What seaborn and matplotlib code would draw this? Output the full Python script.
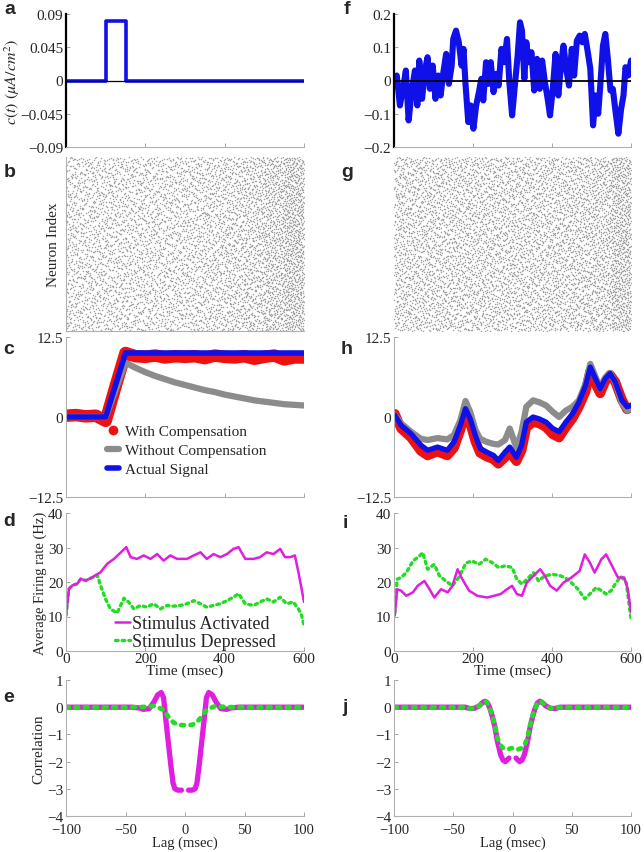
import numpy as np
import pandas as pd
import matplotlib
matplotlib.use("Agg")
import matplotlib.pyplot as plt
from matplotlib.lines import Line2D
import seaborn as sns

sns.set_theme(style="white")
plt.rcParams['font.family'] = ['Liberation Serif', 'DejaVu Serif']
plt.rcParams['mathtext.fontset'] = 'stix'

# ---------------- data ----------------
# (a) pulse stimulus
a_t = [0, 100, 100, 150, 150, 600]
a_v = [0, 0, 0.08, 0.08, 0, 0]

# (f) noisy stimulus
f_t = [0,7,15,24,30,37,45,53,59,64,71,79,85,91,98,105,112,118,125,132,
       139,146,150,157,164,171,176,181,188,194,201,208,215,221,226,233,239,245,252,259,
       265,272,279,286,292,299,306,313,319,324,330,335,341,348,355,362,369,375,382,389,
       395,402,409,416,423,429,436,443,450,456,463,470,477,483,490,497,504,510,517,524,
       529,535,541,548,554,561,568,575,581,586,593,600]
f_v = [-0.005,0.015,-0.075,-0.015,0.03,-0.12,-0.03,0.03,-0.075,0.06,
       -0.055,0.035,0.07,-0.025,0.045,-0.055,0.015,-0.045,0.025,0.08,
       -0.01,0.045,0.125,0.15,0.115,0.045,0.095,-0.01,-0.125,-0.075,
       -0.145,-0.075,-0.035,0.005,-0.06,0.055,-0.01,0.055,-0.035,0.02,
       -0.015,0.095,0.055,0.125,-0.005,-0.105,-0.015,0.075,0.175,0.15,
       0.005,0.115,0.055,0.085,-0.03,0.065,-0.025,0.06,-0.005,-0.055,
       -0.105,-0.025,0.08,-0.045,0.05,0.105,0.035,-0.015,0.095,0.015,
       0.12,0.135,0.115,0.14,0.09,0.035,-0.135,-0.045,-0.1,0.015,
       0.105,0.14,0.07,-0.03,-0.025,-0.095,-0.16,-0.085,-0.045,0.04,
       0.015,0.06]

# (b),(g) spike raster: relative spike density per 50-ms bin
raster_edges = [0,50,100,150,200,250,300,350,400,450,500,550,600]
b_density = [0.50,0.50,0.50,0.50,0.50,0.51,0.53,0.56,0.60,0.66,0.80,1.00]
g_density = [0.60,0.60,0.60,0.60,0.60,0.60,0.60,0.60,0.62,0.64,0.70,0.95]
raster_candidates = 10000

# (c) decoded signal, pulse stimulus
c_t = [0,25,50,75,100,125,150,175,200,225,250,275,300,325,350,375,400,425,450,475,500,525,550,575,600]
c_with = [0.2,0.3,0.1,0.2,-0.6,4.8,10.0,9.5,9.4,9.6,9.3,9.5,9.4,9.5,9.2,9.6,9.4,9.3,9.5,9.1,9.4,9.6,9.0,9.3,9.3]
c_without = [0.0,0.0,0.0,0.0,0.0,4.2,8.5,7.7,7.0,6.4,5.9,5.4,5.0,4.6,4.2,3.9,3.5,3.2,2.9,2.6,2.4,2.2,2.0,1.9,1.8]
c_actual_t = [0, 100, 150, 600]
c_actual = [0, 0, 10, 10]

# (h) decoded signal, noisy stimulus
h_t = [2,18,43,68,85,110,135,152,168,181,193,206,218,235,252,264,281,293,310,323,
       335,352,368,385,402,418,435,452,468,485,497,510,522,535,547,560,577,590,600]
h_actual = [0.3,-1.3,-2.6,-4.4,-5.2,-4.7,-5.2,-3.9,-1.3,1.3,-0.3,-2.9,-4.9,-5.5,-6.0,
            -6.8,-5.5,-4.7,-6.3,-4.4,-0.8,0.0,-0.3,-0.8,-1.8,-2.3,-0.8,0.5,2.3,4.9,
            7.8,6.0,4.4,6.0,6.8,5.5,2.6,1.6,1.8]
h_without = [0.3,-1.0,-2.3,-3.4,-3.6,-3.3,-3.5,-2.8,-0.5,2.5,0.8,-2.0,-3.4,-3.9,-4.2,
             -4.3,-3.6,-1.8,-4.8,-2.3,1.6,2.6,2.3,1.8,0.8,0.0,1.0,1.6,2.6,5.2,
             8.3,6.3,4.5,6.2,6.9,5.4,2.2,1.0,1.3]
h_with = [0.5,-1.8,-3.2,-5.3,-6.0,-5.4,-6.0,-4.8,-2.0,0.8,-1.0,-3.8,-5.6,-6.2,-6.6,
          -7.3,-6.3,-5.5,-6.9,-5.2,-1.6,-0.8,-1.0,-1.6,-2.7,-3.2,-1.6,-0.2,1.6,4.0,
          7.2,5.2,3.7,5.6,6.6,5.5,2.7,1.2,1.5]

# (d) firing rates, pulse stimulus
d_t_act = [0,7.5,16,28.5,37,49.5,62,74.6,87,104,121,142,152,163,179,196,213,230,246,263,
           280,305,322,339,355,372,389,406,422,435,452,473,489,506,523,540,552,565,577,586,594,600]
d_act = [10.3,18,19,19.5,20.9,20.4,21.1,22,22.8,25.3,26.7,29,30.1,27.2,26.7,27.7,26.7,28.1,26.2,27.7,
         26.7,26.7,27.7,28.6,26.7,28.1,27.2,28.1,29.6,30.1,26.7,26.7,27.2,28.6,28.1,29.6,27.2,27.2,27.7,22.8,18,14.2]
d_t_dep = [0,7.5,16,28.5,37,49.5,62,74.6,79,87,100,112,129,146,158,171,188,204,221,238,
           255,272,288,305,322,339,355,372,389,406,422,435,452,473,489,506,523,540,556,573,586,594,600]
d_dep = [10.3,18,19,19.5,20.9,20.4,21.1,21.5,22,19,15,12.2,11,15.3,14.2,12.2,13.2,12.7,13.7,12.2,
         13.2,13,13.2,13.7,14.6,13.7,12.7,13.2,13.7,14.6,15.6,16.6,13.7,13.2,14.2,15.1,14.2,15.6,13.7,14.2,12.2,10.3,7.4]

# (i) firing rates, noisy stimulus
i_t_act = [2,8,18,31,48,60,77,90,102,119,136,148,161,173,190,211,236,253,270,286,
           299,311,324,336,353,370,382,395,412,429,449,470,483,496,508,525,537,550,567,583,592,600]
i_act = [10.3,17.9,17.5,16,17,18.9,20.3,17.9,15.5,17.9,17,18.9,23.7,20.8,17.5,16,15.5,16,16.5,17.9,
         18.9,16.5,16,19.8,21.8,23.7,21.8,18.9,17.5,19.8,21.3,23.2,28,25.6,22.7,26.6,28,25.1,21.3,21.3,17.9,11.2]
i_t_dep = [2,8,18,31,48,64,73,85,102,115,131,148,165,182,198,215,232,249,265,282,
           299,311,324,341,353,366,382,399,416,433,449,466,483,500,512,525,537,550,562,575,588,600]
i_dep = [11.2,20.8,21.3,22.7,26.1,27.5,28.5,23.7,25.1,21.8,20.3,18.9,21.5,25.5,26.1,25.1,26.6,25.6,24.2,24.7,
         24.2,20.8,19.4,21.3,22.7,20.3,21.8,22.2,22,21.3,19.8,17.9,15.1,17,18.4,17.5,16.5,17.5,19.8,21.6,19.8,9.3]

# (e) correlations, pulse stimulus
e_lag_L = [-100,-45,-38,-35,-30,-26,-23,-20,-18,-16,-14,-12,-10,-8.5,-6,-3]
e_act_L = [0,0,-0.03,-0.08,-0.05,0.2,0.45,0.54,0.35,-0.5,-1.3,-2.1,-2.8,-3.0,-3.05,-3.05]
e_lag_R = [3,6,8.5,10,12,14,16,18,20,23,26,30,35,38,45,100]
e_act_R = [-3.05,-3.05,-3.0,-2.8,-2.1,-1.3,-0.5,0.35,0.54,0.45,0.2,-0.05,-0.08,-0.03,0,0]
e_lag_dep = [-100,-40,-30,-26,-22,-18,-14,-10,-6,-2,2,6,10,14,18,22,26,30,40,100]
e_dep = [0,0,0.02,0.05,-0.02,-0.1,-0.35,-0.55,-0.65,-0.66,-0.66,-0.65,-0.55,-0.35,-0.1,-0.02,0.05,0.02,0,0]

# (j) correlations, noisy stimulus
j_lag_L = [-100,-40,-36,-32,-28,-25,-23,-21,-19,-17,-15,-12.5,-10,-8,-6,-4,-3]
j_act_L = [0,0,-0.05,-0.04,0.05,0.18,0.22,0.15,-0.05,-0.35,-0.7,-1.3,-1.75,-1.95,-2.0,-1.92,-1.87]
j_lag_R = [3,4,6,8,10,12.5,15,17,19,21,23,25,28,32,36,40,100]
j_act_R = [-1.87,-1.92,-2.0,-1.95,-1.75,-1.3,-0.7,-0.35,-0.05,0.15,0.22,0.18,0.05,-0.04,-0.05,0,0]
j_lag_dep = [-100,-40,-36,-32,-28,-25,-23,-21,-19,-17,-15,-12.5,-10,-8,-5,0,5,8,10,12.5,
             15,17,19,21,23,25,28,32,36,40,100]
j_dep = [0,0,-0.05,-0.04,0.05,0.18,0.22,0.15,-0.05,-0.3,-0.65,-1.15,-1.4,-1.5,-1.55,-1.5,-1.55,-1.5,-1.4,-1.15,
         -0.65,-0.3,-0.05,0.15,0.22,0.18,0.05,-0.04,-0.05,0,0]

# ---------------- styling ----------------
BLUE = '#1010e8'
RED = '#ee1111'
GRAY = '#8c8c8c'
MAG = '#e01ee0'
GRN = '#22dd22'
SPINE = '#b0b0b0'
TICKFS = 11

fig = plt.figure(figsize=(6.44, 8.53), dpi=100)
W, H = 644.0, 853.0

def add_ax(x0, x1, y0, y1):
    return fig.add_axes([x0 / W, 1 - y1 / H, (x1 - x0) / W, (y1 - y0) / H])

cols = [(66, 304), (394, 631)]
rows = [(15, 148), (158, 332), (338, 498), (514, 652), (681, 817)]
axes = [[add_ax(c[0], c[1], r[0], r[1]) for r in rows] for c in cols]

def style(ax, left_black=False):
    for s in ['top', 'right']:
        ax.spines[s].set_visible(False)
    ax.spines['left'].set_color('black' if left_black else SPINE)
    ax.spines['left'].set_linewidth(1.6 if left_black else 0.8)
    ax.spines['bottom'].set_color(SPINE)
    ax.spines['bottom'].set_linewidth(0.8)
    ax.tick_params(direction='in', length=3, width=0.6, color='#999999',
                   labelsize=TICKFS, pad=2, left=True, bottom=True)
    ax.tick_params(axis='x', pad=1)
    ax.set_facecolor('white')
    ax.grid(False)

def line(ax, x, y, **kw):
    sns.lineplot(x=x, y=y, ax=ax, estimator=None, sort=False, legend=False, **kw)

def vdc(k, base):
    # van der Corput radical inverse (deterministic low-discrepancy sequence)
    out = np.zeros(len(k))
    denom = 1.0
    k = k.copy()
    while np.any(k > 0):
        denom *= base
        out += (k % base) / denom
        k //= base
    return out

def raster(ax, density):
    k = np.arange(1, raster_candidates + 1)
    u = vdc(k, 2)
    v = vdc(k, 3)
    w = vdc(k, 5)
    t = u * 600
    b = np.clip(np.searchsorted(raster_edges, t, side='right') - 1, 0, len(density) - 1)
    keep = w < np.asarray(density)[b]
    df = pd.DataFrame({'t': t[keep], 'n': v[keep]})
    sns.scatterplot(data=df, x='t', y='n', ax=ax, s=1.2, color='#a0a0a0',
                    linewidth=0, legend=False)
    ax.set_xlim(0, 600)
    ax.set_ylim(0, 1)
    ax.set_xticks([])
    ax.set_yticks([])
    ax.set_xlabel('')
    ax.set_ylabel('')

minus = '\u2212'

# ---- (a)
ax = axes[0][0]
style(ax, left_black=True)
line(ax, a_t, a_v, color=BLUE, lw=2.6)
ax.axhline(0, color='black', lw=0.9, zorder=5)
ax.set_xlim(0, 600); ax.set_ylim(-0.09, 0.09)
ax.set_yticks([0.09, 0.045, 0, -0.045, -0.09])
ax.set_yticklabels(['0.09', '0.045', '0', minus + '0.045', minus + '0.09'])
ax.set_xticks([0, 200, 400, 600]); ax.set_xticklabels([])
ax.set_ylabel(r'$c(t)\ (\mu A/cm^2)$', fontsize=11.5)
ax.yaxis.set_label_coords(-0.185, 0.5)

# ---- (f)
ax = axes[1][0]
style(ax, left_black=True)
line(ax, f_t, f_v, color=BLUE, lw=4.4)
ax.axhline(0, color='black', lw=1.3, zorder=5)
ax.set_xlim(0, 600); ax.set_ylim(-0.2, 0.2)
ax.set_yticks([0.2, 0.1, 0, -0.1, -0.2])
ax.set_yticklabels(['0.2', '0.1', '0', minus + '0.1', minus + '0.2'])
ax.set_xticks([0, 200, 400, 600]); ax.set_xticklabels([])
ax.set_xlabel(''); ax.set_ylabel('')

# ---- (b), (g)
ax = axes[0][1]
style(ax)
raster(ax, b_density)
ax.set_ylabel('Neuron Index', fontsize=11)
ax.yaxis.set_label_coords(-0.025, 0.5)
ax = axes[1][1]
style(ax)
ax.spines['left'].set_visible(False)
ax.spines['bottom'].set_visible(False)
raster(ax, g_density)

# ---- (c)
ax = axes[0][2]
style(ax)
line(ax, c_t, c_with, color=RED, lw=9, solid_joinstyle='round')
line(ax, c_t, c_without, color=GRAY, lw=4.5)
line(ax, c_actual_t, c_actual, color=BLUE, lw=4)
ax.set_xlim(0, 600); ax.set_ylim(-12.5, 12.5)
ax.set_yticks([12.5, 0, -12.5]); ax.set_yticklabels(['12.5', '0', minus + '12.5'])
ax.set_xticks([0, 200, 400, 600]); ax.set_xticklabels([])
ax.set_xlabel(''); ax.set_ylabel('')
handles = [Line2D([], [], color=RED, marker='o', ls='none', markersize=6),
           Line2D([], [], color=GRAY, lw=4.5),
           Line2D([], [], color=BLUE, lw=4)]
ax.legend(handles, ['With Compensation', 'Without Compensation', 'Actual Signal'],
          loc='upper left', bbox_to_anchor=(0.14, 0.50), frameon=False,
          fontsize=11, handlelength=0.8, handletextpad=0.4, labelspacing=0.35,
          borderpad=0)

# ---- (h)
ax = axes[1][2]
style(ax)
line(ax, h_t, h_with, color=RED, lw=7)
line(ax, h_t, h_without, color=GRAY, lw=4.5)
line(ax, h_t, h_actual, color=BLUE, lw=3.8)
ax.set_xlim(0, 600); ax.set_ylim(-12.5, 12.5)
ax.set_yticks([12.5, 0, -12.5]); ax.set_yticklabels(['12.5', '0', minus + '12.5'])
ax.set_xticks([0, 200, 400, 600]); ax.set_xticklabels([])
ax.set_xlabel(''); ax.set_ylabel('')

# ---- (d), (i)
DOT = (0, (0.8, 1.2))
for k, (ta, va, td, vd) in enumerate([(d_t_act, d_act, d_t_dep, d_dep),
                                       (i_t_act, i_act, i_t_dep, i_dep)]):
    ax = axes[k][3]
    style(ax)
    line(ax, td, vd, color=GRN, lw=2.4, linestyle=DOT, dash_capstyle='round')
    line(ax, ta, va, color=MAG, lw=1.8)
    ax.set_xlim(0, 600); ax.set_ylim(0, 40)
    ax.set_xticks([0, 200, 400, 600]); ax.set_yticks([0, 10, 20, 30, 40])
    ax.set_xlabel('Time (msec)', fontsize=11, labelpad=-1)
    ax.set_ylabel('')
axes[0][3].set_ylabel('Average Firing rate (Hz)', fontsize=10.5)
axes[0][3].yaxis.set_label_coords(-0.08, 0.5)
handles = [Line2D([], [], color=MAG, lw=1.8),
           Line2D([], [], color=GRN, lw=2.4, linestyle=DOT, dash_capstyle='round')]
axes[0][3].legend(handles, ['Stimulus Activated', 'Stimulus Depressed'],
                  loc='upper left', bbox_to_anchor=(0.17, 0.325), frameon=False,
                  fontsize=13, handlelength=0.8, handletextpad=0.1, labelspacing=0.05,
                  borderpad=0)

# ---- (e), (j)
for k, (lL, aL, lR, aR, ld, vd) in enumerate([
        (e_lag_L, e_act_L, e_lag_R, e_act_R, e_lag_dep, e_dep),
        (j_lag_L, j_act_L, j_lag_R, j_act_R, j_lag_dep, j_dep)]):
    ax = axes[k][4]
    style(ax)
    line(ax, lL, aL, color=MAG, lw=3.8)
    line(ax, lR, aR, color=MAG, lw=3.8)
    line(ax, ld, vd, color=GRN, lw=3.4, linestyle=(0, (0.6, 1.4)), dash_capstyle='round')
    ax.set_xlim(-100, 100); ax.set_ylim(-4, 1)
    ax.set_xticks([-100, -50, 0, 50, 100])
    ax.set_xticklabels([minus + '100', minus + '50', '0', '50', '100'])
    ax.set_yticks([1, 0, -1, -2, -3, -4])
    ax.set_yticklabels(['1', '0', minus + '1', minus + '2', minus + '3', minus + '4'])
    ax.tick_params(axis='x', pad=5, labelsize=10.5)
    ax.set_xlabel('Lag (msec)', fontsize=10.5, labelpad=-0.5)
    ax.set_ylabel('')
axes[0][4].set_ylabel('Correlation', fontsize=11)
axes[0][4].yaxis.set_label_coords(-0.088, 0.5)

# ---- panel letters
letters = [('a', 10, 10), ('b', 10, 173), ('c', 9, 350), ('d', 9, 522), ('e', 9, 698),
           ('f', 347, 10), ('g', 347, 173), ('h', 347, 350), ('i', 345, 523), ('j', 345, 708)]
for s, x, y in letters:
    fig.text(x / W, 1 - y / H, s, fontsize=14, fontweight='bold',
             family=['Liberation Sans', 'DejaVu Sans'], ha='center', va='center')

fig.savefig('out.png', dpi=100)
